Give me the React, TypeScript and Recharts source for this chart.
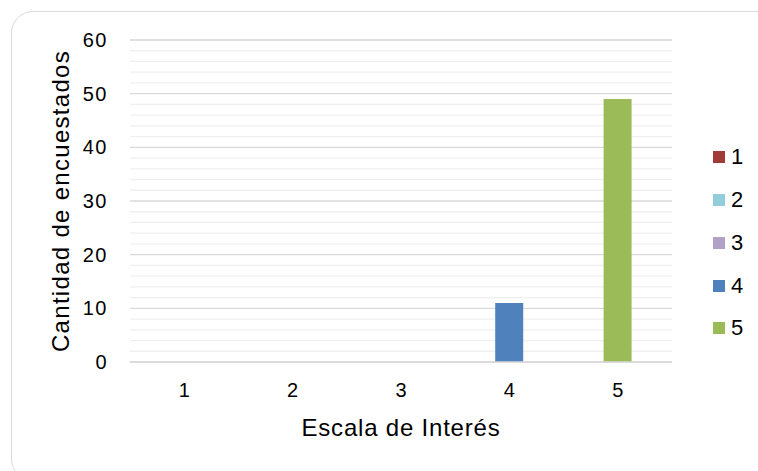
import React from "react";
import {
  BarChart,
  Bar,
  XAxis,
  YAxis,
  CartesianGrid,
  Legend,
  Label,
} from "recharts";

// Escala de interés (categorías del eje X) y conteo de encuestados por nivel
const categorias = ["1", "2", "3", "4", "5"];
const series = ["1", "2", "3", "4", "5"];
const conteos = [0, 0, 0, 11, 49];
const colores = ["#A23B38", "#92CDDC", "#B2A1C7", "#4F81BD", "#9BBB59"];

const ticksY = [0, 10, 20, 30, 40, 50, 60];
const lineasMenores = [2, 4, 6, 8, 12, 14, 16, 18, 22, 24, 26, 28, 32, 34, 36, 38, 42, 44, 46, 48, 52, 54, 56, 58];

// cada serie solo tiene valor en su propia categoría
const datos = categorias.map((cat, i) => {
  const fila: Record<string, string | number> = { cat };
  series.forEach((s, j) => {
    fila["s" + s] = i === j ? conteos[i] : 0;
  });
  return fila;
});

const FUENTE = '"Liberation Sans", Arial, sans-serif';

// posiciones de la rejilla menor (cada 2 unidades) dentro del área de trazado
const rejillaMenor = ({ yAxis, offset }: any) => {
  const sc = yAxis && typeof yAxis.scale === "function" ? yAxis.scale : null;
  if (sc) return lineasMenores.map((v) => sc(v));
  if (!offset) return [];
  const max = ticksY[ticksY.length - 1];
  return lineasMenores.map((v) => offset.top + offset.height * (1 - v / max));
};

const TituloY = (props: any) => {
  const vb = props.viewBox || {};
  const cx = 60;
  const cy = vb.y + vb.height / 2;
  return (
    <text
      x={cx}
      y={cy}
      transform={`rotate(-90, ${cx}, ${cy})`}
      textAnchor="middle"
      dominantBaseline="central"
      fontSize={24}
      fill="#000"
      style={{ fontFamily: FUENTE, letterSpacing: 1.3 }}
    >
      Cantidad de encuestados
    </text>
  );
};

const Leyenda = () => (
  <div style={{ fontFamily: FUENTE, fontSize: 22, color: "#000" }}>
    {series.map((s, i) => (
      <div
        key={s}
        style={{ height: 42.75, display: "flex", alignItems: "center" }}
      >
        <span
          style={{
            width: 12,
            height: 12,
            background: colores[i],
            display: "inline-block",
            marginRight: 6,
          }}
        />
        <span>{s}</span>
      </div>
    ))}
  </div>
);

export default function App() {
  return (
    <div
      style={{
        position: "relative",
        width: 758,
        height: 471,
        overflow: "hidden",
        background: "#fff",
      }}
    >
      <style>{`body{margin:0}`}</style>
      <div
        style={{
          position: "absolute",
          left: 11,
          top: 11,
          width: 770,
          height: 470,
          border: "1.5px solid #d9d9d9",
          borderRadius: 22,
          boxSizing: "border-box",
        }}
      />
      <div style={{ position: "absolute", left: 0, top: 0 }}>
        <BarChart
          width={758}
          height={471}
          data={datos}
          margin={{ top: 40, right: 36, left: 60, bottom: 0 }}
          barSize={28}
        >
          <CartesianGrid
            vertical={false}
            horizontalCoordinatesGenerator={rejillaMenor}
            stroke="#f0f0f0"
            strokeWidth={1.3}
          />
          <CartesianGrid vertical={false} stroke="#d9d9d9" strokeWidth={1.3} />
          <XAxis
            dataKey="cat"
            height={109}
            tickLine={false}
            tickSize={0}
            tickMargin={21}
            axisLine={{ stroke: "#d9d9d9", strokeWidth: 1.3 }}
            tick={{ fontSize: 20, fill: "#000", fontFamily: FUENTE }}
          >
            <Label
              value="Escala de Interés"
              position="insideTop"
              offset={57}
              fontSize={24}
              fill="#000"
              style={{ fontFamily: FUENTE, letterSpacing: 0.8 }}
            />
          </XAxis>
          <YAxis
            width={70}
            domain={[0, 60]}
            ticks={ticksY}
            axisLine={false}
            tickLine={false}
            tickSize={0}
            tickMargin={22}
            tick={{ fontSize: 20, fill: "#000", fontFamily: FUENTE, letterSpacing: 1.5 }}
            label={<TituloY />}
          />
          <Legend
            content={<Leyenda />}
            layout="vertical"
            align="right"
            verticalAlign="middle"
            wrapperStyle={{ position: "absolute", left: 713, top: 136, width: 50 }}
          />
          {series.map((s, i) => (
            <Bar
              key={s}
              dataKey={"s" + s}
              name={s}
              stackId="a"
              fill={colores[i]}
              isAnimationActive={false}
            />
          ))}
        </BarChart>
      </div>
    </div>
  );
}
